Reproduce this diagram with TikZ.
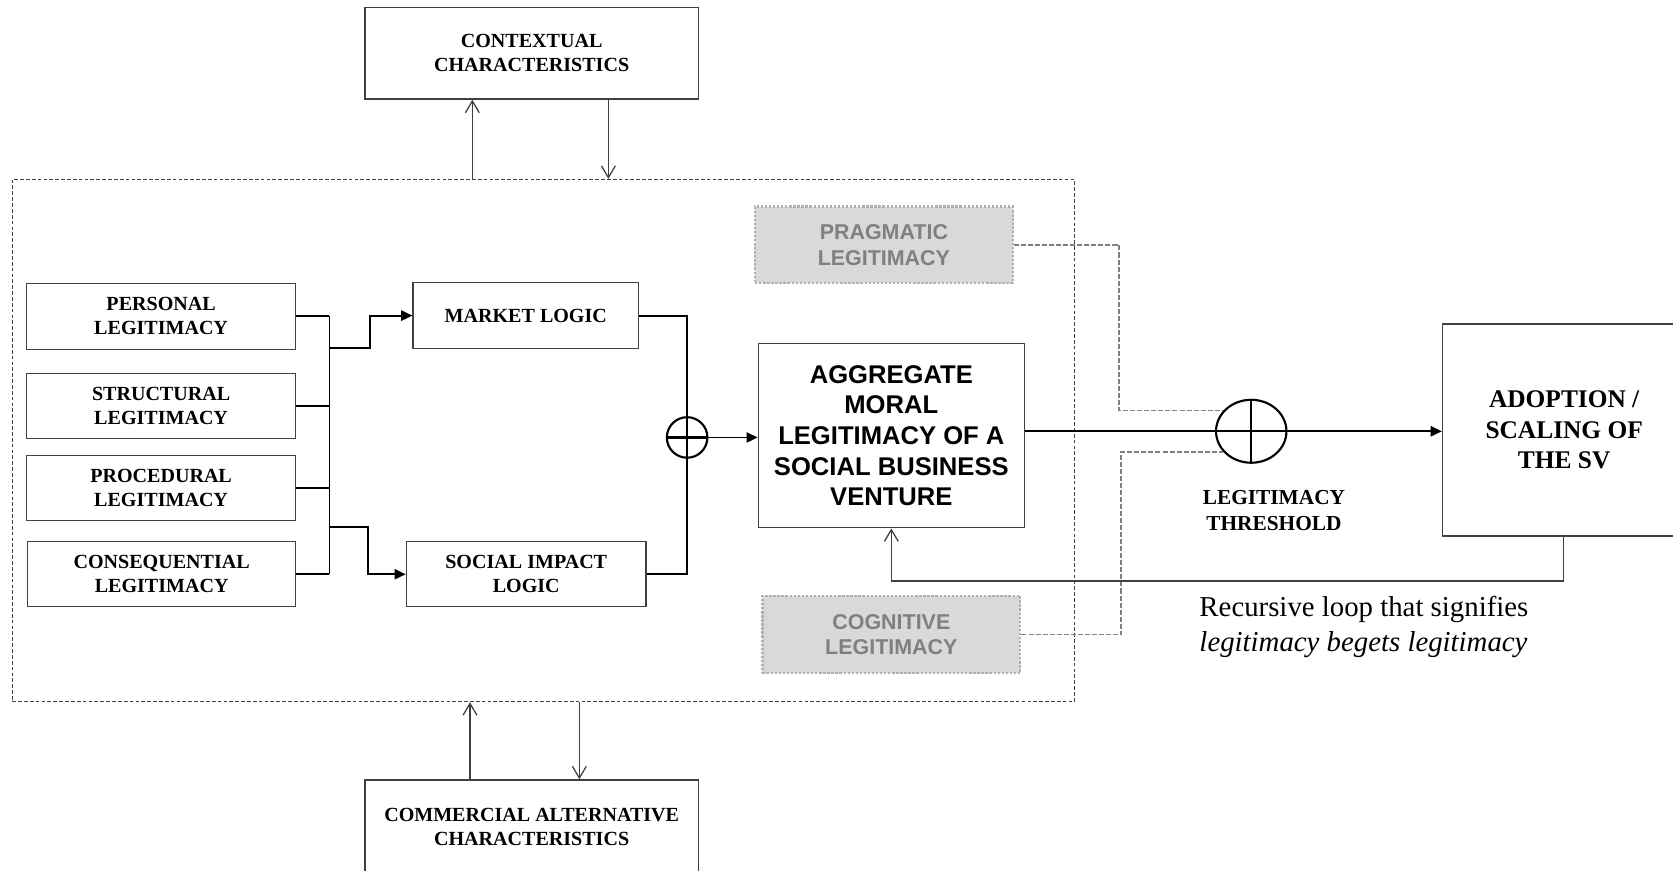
\documentclass[tikz,border=0pt]{standalone}
\usepackage{fontspec}
\setmainfont{Liberation Serif}
\setsansfont{Liberation Sans}
\usetikzlibrary{arrows.meta,shapes.geometric,calc}

\definecolor{boxline}{HTML}{404040}
\definecolor{softfill}{HTML}{D9D9D9}
\definecolor{softtext}{HTML}{808080}
\definecolor{softline}{HTML}{B0B0B0}
\definecolor{linkgray}{HTML}{808080}

\begin{document}
\begin{tikzpicture}[x=1pt,y=-1pt,
  box/.style={draw=boxline, line width=1.2pt, fill=white, inner sep=0pt, align=center,
    font=\bfseries\fontsize{18.8}{22.5}\selectfont},
  soft/.style={draw=softline, line width=2.2pt, dash pattern=on 2.2pt off 1.6pt, fill=softfill,
    text=softtext, inner sep=0pt, align=center, font=\sffamily\bfseries\fontsize{20.1}{24}\selectfont},
  conn/.style={draw=black, line width=1.8pt},
  arrowhead/.style={-{Triangle[length=10.5pt,width=9.5pt]}},
  openarrow/.style={draw=boxline, line width=1.2pt, -{Straight Barb[length=11pt,width=13pt]}},
  softlink/.style={draw=linkgray, line width=1.5pt, dash pattern=on 4.7pt off 1.9pt},
  outerframe/.style={draw=boxline, line width=1pt, dash pattern=on 3.5pt off 2pt, inner sep=0pt},
  junction/.style={draw=black, line width=2pt, inner sep=0pt}
]
\useasboundingbox (0,0) rectangle (1568,816);
\fill[white] (0,0) rectangle (1568,816);
\clip (0,0) rectangle (1568,816);

% dashed frame around the venture
\node[outerframe, minimum width=995.4pt, minimum height=489.5pt] (fr) at (509.2,412.9) {};

% context boxes
\node[box, minimum width=312.5pt, minimum height=86pt] (ctx) at (498.3,49.9) {CONTEXTUAL\\CHARACTERISTICS};
\node[box, minimum width=312.5pt, minimum height=89pt] (com) at (498.3,775.5) {COMMERCIAL ALTERNATIVE\\CHARACTERISTICS};

% legitimacy sources
\node[box, minimum width=252pt, minimum height=62pt] (pers) at (151,296.5) {PERSONAL\\LEGITIMACY};
\node[box, minimum width=252pt, minimum height=61pt] (str) at (151,380.5) {STRUCTURAL\\LEGITIMACY};
\node[box, minimum width=252pt, minimum height=61pt] (proc) at (151,457.5) {PROCEDURAL\\LEGITIMACY};
\node[box, minimum width=251pt, minimum height=61pt] (cons) at (151.5,538.2) {CONSEQUENTIAL\\LEGITIMACY};

% logics
\node[box, minimum width=211.3pt, minimum height=61.5pt] (mkt) at (492.8,295.8) {MARKET LOGIC};
\node[box, minimum width=224.7pt, minimum height=61pt] (soc) at (493.2,538.2) {SOCIAL IMPACT\\LOGIC};

% summing junction
\node[junction, circle, minimum size=38pt] (sum) at (644,410) {};

% aggregate moral legitimacy
\node[box, font=\sffamily\bfseries\fontsize{24}{28.7}\selectfont, minimum width=249.3pt, minimum height=172.5pt]
  (agg) at (835.4,408.4) {AGGREGATE\\MORAL\\LEGITIMACY OF A\\SOCIAL BUSINESS\\VENTURE};

% other legitimacy types
\node[soft, minimum width=241.5pt, minimum height=71.8pt] (prag) at (828.4,229.6) {PRAGMATIC\\LEGITIMACY};
\node[soft, minimum width=241.7pt, minimum height=72.4pt] (cog) at (835.4,594.8) {COGNITIVE\\LEGITIMACY};

% threshold junction and outcome
\node[junction, ellipse, minimum width=66pt, minimum height=59pt] (thr) at (1172.7,404.2) {};
\node[font=\bfseries\fontsize{20}{25}\selectfont, align=center, inner sep=0pt] (thrlab) at (1194,478.5) {LEGITIMACY\\THRESHOLD};
\node[box, font=\bfseries\fontsize{23.8}{28.5}\selectfont, minimum width=228pt, minimum height=198.7pt]
  (adopt) at (1466,403) {ADOPTION /\\SCALING OF\\THE SV};
\node[anchor=west, align=left, inner sep=0pt, font=\fontsize{27}{33}\selectfont]
  (note) at (1124,587.5) {Recursive loop that signifies\\\textit{legitimacy begets legitimacy}};

% context arrows
\coordinate (cu) at (442.7,0);
\coordinate (cd) at (570.2,0);
\coordinate (mu) at (440.5,0);
\coordinate (md) at (543,0);
\draw[openarrow] (cu |- fr.north) -- (cu |- ctx.south);
\draw[openarrow] (cd |- ctx.south) -- (cd |- fr.north);
\draw[openarrow] (mu |- com.north) -- (mu |- fr.south);
\draw[openarrow] (md |- fr.south) -- (md |- com.north);

% bus from the four sources
\coordinate (bus) at (308.8,0);
\coordinate (jt) at (308.8,326);
\coordinate (kt) at (346.5,326);
\coordinate (jb) at (308.8,494.3);
\coordinate (kb) at (344.8,494.3);
\draw[conn] (pers.east) -- (bus |- pers.east);
\draw[conn] (str.east) -- (bus |- str.east);
\draw[conn] (proc.east) -- (bus |- proc.east);
\draw[conn] (cons.east) -- (bus |- cons.east);
\draw[conn] (bus |- pers.east) -- (bus |- cons.east);
\draw[conn, arrowhead] (jt) -- (kt) |- (mkt.west);
\draw[conn, arrowhead] (jb) -- (kb) |- (soc.west);

% logics into the junction
\draw[conn] (mkt.east) -| (sum.north);
\draw[conn] (soc.east) -| (sum.south);
\draw[junction] (sum.north) -- (sum.south) (sum.west) -- (sum.east);
\draw[conn, arrowhead] (sum.east) -- (sum.east -| agg.west);

% main line through the threshold
\draw[conn, arrowhead] (agg.east |- thr.center) -- (adopt.west |- thr.center);
\draw[junction] (thr.north) -- (thr.south);

% dashed links from pragmatic and cognitive legitimacy
\coordinate (pk) at (1048.8,0);
\coordinate (ck) at (1050.8,0);
\draw[softlink] (prag.east) -| (pk |- thr.143) -- (thr.143);
\draw[softlink] (cog.east) -| (ck |- thr.216) -- (thr.216);

% recursive loop
\coordinate (fb) at (1465.4,544.4);
\draw[openarrow] (fb |- adopt.south) -- (fb) -| (agg.south);
\end{tikzpicture}
\end{document}
